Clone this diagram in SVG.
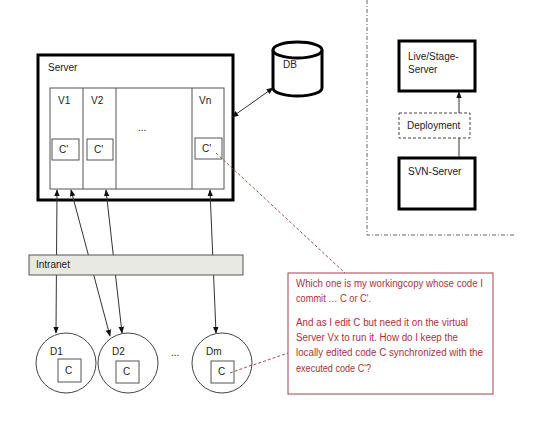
<svg xmlns="http://www.w3.org/2000/svg" width="540" height="446" viewBox="0 0 540 446">
<defs>
<marker id="ah" viewBox="0 0 10 10" refX="9" refY="5" markerWidth="7" markerHeight="7" orient="auto-start-reverse" markerUnits="userSpaceOnUse">
<path d="M0,1 L10,5 L0,9 z" fill="#111"/>
</marker>
<style>
text{font-family:"Liberation Sans",Arial,sans-serif;font-size:10px;fill:#222}
.thick{fill:#fff;stroke:#000;stroke-width:3}
.thin{fill:#fff;stroke:#555;stroke-width:1}
.conn{fill:none;stroke:#333;stroke-width:1}
.red{fill:none;stroke:#a0505a;stroke-width:1;stroke-dasharray:3,2}
.note{fill:#b03040}
</style>
</defs>
<rect width="540" height="446" fill="#fff"/>
<path d="M367,0 V235 H515" fill="none" stroke="#666" stroke-width="1" stroke-dasharray="4,2,1,2"/>
<g id="server">
<rect x="38" y="55" width="195" height="145" class="thick"/>
<text x="48" y="71">Server</text>
<rect x="50" y="88" width="174" height="101" class="thin"/>
<line x1="83" y1="88" x2="83" y2="189" stroke="#555"/>
<line x1="116" y1="88" x2="116" y2="189" stroke="#555"/>
<line x1="192" y1="88" x2="192" y2="189" stroke="#555"/>
</g>
<g id="v1"><text x="58" y="104">V1</text><rect x="52" y="139" width="27" height="21" class="thin"/><text x="59" y="153">C'</text></g>
<g id="v2"><text x="91" y="104">V2</text><rect x="87" y="139" width="26" height="21" class="thin"/><text x="94" y="153">C'</text></g>
<g id="vdots"><text x="138" y="131">...</text></g>
<g id="vn"><text x="199" y="104">Vn</text><rect x="195" y="138" width="27" height="21" class="thin"/><text x="202" y="152">C'</text></g>
<g id="db">
<path d="M273,50 V88 A24.5,8 0 0 0 322,88 V50" fill="#fff" stroke="#000" stroke-width="3"/>
<ellipse cx="297.5" cy="50" rx="24.5" ry="8" fill="#fff" stroke="#000" stroke-width="3"/>
<text x="283" y="68">DB</text>
</g>
<g id="live"><rect x="399" y="41" width="76" height="50" class="thick" stroke-width="2.5"/><text x="408" y="60">Live/Stage-</text><text x="408" y="73">Server</text></g>
<g id="deployment"><rect x="399" y="113" width="71" height="25" fill="#fff" stroke="#444" stroke-dasharray="3,2"/><text x="407" y="129">Deployment</text></g>
<g id="svn"><rect x="399" y="158" width="76" height="51" class="thick" stroke-width="2.5"/><text x="408" y="175">SVN-Server</text></g>
<g id="connectors">
<line x1="232" y1="117" x2="273" y2="88" class="conn" marker-start="url(#ah)" marker-end="url(#ah)"/>
<line x1="459" y1="113" x2="459" y2="92" class="conn" marker-end="url(#ah)"/>
<line x1="459" y1="157" x2="459" y2="138" class="conn"/>
<line x1="57" y1="190" x2="56" y2="333" class="conn" marker-start="url(#ah)" marker-end="url(#ah)"/>
<line x1="71" y1="190" x2="110" y2="336" class="conn" marker-start="url(#ah)" marker-end="url(#ah)"/>
<line x1="106" y1="190" x2="122" y2="333" class="conn" marker-start="url(#ah)" marker-end="url(#ah)"/>
<line x1="210" y1="190" x2="216" y2="333" class="conn" marker-start="url(#ah)" marker-end="url(#ah)"/>
<line x1="216" y1="153" x2="345" y2="273" class="red"/>
<line x1="230" y1="373" x2="288" y2="353" class="red"/>
</g>
<g id="intranet"><rect x="29" y="255" width="214" height="20" fill="#e9e9e3" stroke="#555"/><text x="36" y="268">Intranet</text></g>
<g id="d1"><circle cx="66" cy="363" r="30" fill="#fff" stroke="#444"/><text x="50" y="355">D1</text><rect x="58" y="359" width="23" height="23" class="thin"/><text x="65" y="374">C</text></g>
<g id="d2"><circle cx="128" cy="363" r="30" fill="#fff" stroke="#444"/><text x="112" y="355">D2</text><rect x="116" y="361" width="23" height="22" class="thin"/><text x="123" y="375">C</text></g>
<g id="ddots"><text x="171" y="356">...</text></g>
<g id="dm"><circle cx="222" cy="363" r="30" fill="#fff" stroke="#444"/><text x="206" y="355">Dm</text><rect x="211" y="361" width="23" height="22" class="thin"/><text x="218" y="375">C</text></g>
<line x1="230" y1="373" x2="252" y2="365" class="red"/>
<g id="note">
<rect x="288" y="273" width="205" height="121" fill="#fff" stroke="#a84050" stroke-width="1"/>
<text x="296" y="287" class="note" textLength="187" lengthAdjust="spacingAndGlyphs">Which one is my workingcopy whose code I</text>
<text x="296" y="302" class="note" textLength="75" lengthAdjust="spacingAndGlyphs">commit … C or C'.</text>
<text x="296" y="326" class="note" textLength="172" lengthAdjust="spacingAndGlyphs">And as I edit C but need it on the virtual</text>
<text x="296" y="341" class="note" textLength="162" lengthAdjust="spacingAndGlyphs">Server Vx to run it.  How do I keep the</text>
<text x="296" y="356" class="note" textLength="187" lengthAdjust="spacingAndGlyphs">locally edited code C synchronized with the</text>
<text x="296" y="372" class="note" textLength="75" lengthAdjust="spacingAndGlyphs">executed code C'?</text>
</g>
</svg>
